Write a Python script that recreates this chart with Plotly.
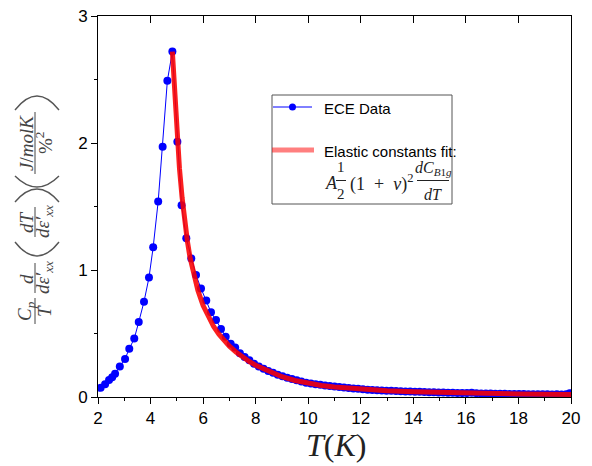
import plotly.graph_objects as go

# ---------------- data ----------------
T_rise = [2.10, 2.27, 2.42, 2.54, 2.65, 2.83, 3.03, 3.19, 3.38, 3.55, 3.75, 3.94,
          4.10, 4.29, 4.46, 4.64, 4.83]
y_rise = [0.072, 0.10, 0.134, 0.155, 0.183, 0.24, 0.30, 0.38, 0.46, 0.59, 0.75, 0.94,
          1.18, 1.54, 1.97, 2.49, 2.72]

T_fall = [5.02, 5.18, 5.36, 5.55, 5.73, 5.92, 6.12, 6.30, 6.49, 6.68, 6.86, 7.05]
y_fall = [2.01, 1.51, 1.25, 1.09, 0.96, 0.855, 0.76, 0.667, 0.606, 0.535, 0.475, 0.42]

T_tail = [7.22, 7.40, 7.58, 7.76, 7.94, 8.12, 8.30, 8.48, 8.66, 8.84, 9.02, 9.20,
          9.38, 9.56, 9.74, 9.92, 10.10, 10.28, 10.46, 10.64, 10.82, 11.00, 11.18,
          11.36, 11.54, 11.72, 11.90, 12.08, 12.26, 12.44, 12.62, 12.80, 12.98,
          13.16, 13.34, 13.52, 13.70, 13.88, 14.06, 14.24, 14.42, 14.60, 14.78,
          14.96, 15.14, 15.32, 15.50, 15.68, 15.86, 16.04, 16.22, 16.40, 16.58,
          16.76, 16.94, 17.12, 17.30, 17.48, 17.66, 17.84, 18.02, 18.20, 18.38,
          18.56, 18.74, 18.92, 19.10, 19.28, 19.46, 19.64, 19.82, 19.95]
y_tail = [0.39, 0.345, 0.315, 0.29, 0.262, 0.24, 0.222, 0.205, 0.19, 0.176, 0.163,
          0.152, 0.141, 0.132, 0.122, 0.113, 0.107, 0.101, 0.096, 0.090, 0.086,
          0.082, 0.078, 0.074, 0.071, 0.067, 0.064, 0.061, 0.058, 0.056, 0.054,
          0.052, 0.050, 0.049, 0.047, 0.046, 0.044, 0.043, 0.042, 0.041, 0.040,
          0.038, 0.037, 0.036, 0.035, 0.034, 0.033, 0.032, 0.031, 0.031, 0.033,
          0.030, 0.028, 0.027, 0.027, 0.026, 0.025, 0.025, 0.024, 0.024, 0.023,
          0.023, 0.022, 0.022, 0.021, 0.022, 0.021, 0.020, 0.021, 0.020, 0.021,
          0.030]

T_fit = [4.83, 4.9, 5.0, 5.1, 5.2, 5.3, 5.4, 5.5, 5.6, 5.7, 5.8, 6.0, 6.2, 6.4, 6.6,
         6.8, 7.0, 7.25, 7.5, 7.75, 8.0, 8.5, 9.0, 9.5, 10, 10.5, 11, 12, 13, 14,
         15, 16, 17, 18, 19, 20]
y_fit = [2.72, 2.46, 2.10, 1.80, 1.57, 1.38, 1.23, 1.10, 1.00, 0.91, 0.84, 0.72,
         0.63, 0.555, 0.495, 0.445, 0.40, 0.355, 0.315, 0.28, 0.25, 0.20, 0.16,
         0.13, 0.105, 0.09, 0.078, 0.061, 0.050, 0.042, 0.036, 0.031, 0.027, 0.024,
         0.022, 0.020]

x_ticks = [2, 4, 6, 8, 10, 12, 14, 16, 18, 20]
y_ticks = [0, 1, 2, 3]

T_data = T_rise + T_fall + T_tail
y_data = y_rise + y_fall + y_tail

# ---------------- layout helpers (screen pixel -> paper) ----------------
# page body has an 8px margin, so the figure is drawn 8px in from the corner
OFF = 8
W, H = 592 - OFF, 466 - OFF
PL, PR, PT, PB = 98, 571, 16, 397          # plot area in screen pixels
L, R, TOP, B = PL - OFF, OFF + W - PR, PT - OFF, OFF + H - PB
PW, PH = PR - PL, PB - PT


def px(x):
    return (x - PL) / PW


def py(y):
    return (PB - y) / PH


BLUE = "#0000ff"
SERIF = "Liberation Serif, DejaVu Serif, serif"
SANS = "Liberation Sans, Arial, sans-serif"

fig = go.Figure()
fig.add_trace(go.Scatter(x=T_data, y=y_data, mode="lines+markers",
                         line=dict(color=BLUE, width=1),
                         marker=dict(color=BLUE, size=8, line=dict(width=0)),
                         showlegend=False))
fig.add_trace(go.Scatter(x=T_fit, y=y_fit, mode="lines",
                         line=dict(color="rgba(250,0,0,0.88)", width=5),
                         showlegend=False))
# invisible trace for top axis
fig.add_trace(go.Scatter(x=[2, 20], y=[0, 0], xaxis="x2", mode="markers",
                         marker=dict(opacity=0), showlegend=False, hoverinfo="skip"))

fig.update_layout(
    width=W, height=H, margin=dict(l=L, r=R, t=TOP, b=B, autoexpand=False),
    paper_bgcolor="white", plot_bgcolor="white",
    showlegend=False,
    xaxis=dict(range=[2, 20], tickvals=x_ticks, ticks="outside", ticklen=6,
               tickwidth=1, tickcolor="black", showline=True, linecolor="black",
               linewidth=1, mirror=False, showgrid=False, zeroline=False,
               automargin=False, ticklabeloverflow="allow",
               tickfont=dict(family=SANS, size=17, color="black"),
               minor=dict(dtick=1, ticks="outside", ticklen=3, tickcolor="black")),
    xaxis2=dict(range=[2, 20], overlaying="x", side="top", tickvals=x_ticks,
                ticks="inside", ticklen=7, tickcolor="black", showline=True,
                linecolor="black", linewidth=1, showticklabels=False,
                showgrid=False, zeroline=False, automargin=False),
    yaxis=dict(range=[0, 3], tickvals=y_ticks, ticks="outside", ticklen=6,
               tickwidth=1, tickcolor="black", showline=True, linecolor="black",
               linewidth=1, mirror=True, showgrid=False, zeroline=False,
               automargin=False, ticklabeloverflow="allow",
               tickfont=dict(family=SANS, size=17, color="black"),
               minor=dict(dtick=0.5, ticks="outside", ticklen=3, tickcolor="black")),
)

ann = []
shapes = []


def text(x, y, s, size=16, angle=0, family=SERIF, color="#222", xa="center"):
    ann.append(dict(x=px(x), y=py(y), xref="paper", yref="paper", text=s,
                    showarrow=False, textangle=angle, xanchor=xa, yanchor="middle",
                    font=dict(family=family, size=size, color=color)))


def hline(x0, x1, y, color="#222", w=1):
    shapes.append(dict(type="line", xref="paper", yref="paper", x0=px(x0), x1=px(x1),
                       y0=py(y), y1=py(y), line=dict(color=color, width=w)))


def vline(x, y0, y1, color="#444", w=1):
    shapes.append(dict(type="line", xref="paper", yref="paper", x0=px(x), x1=px(x),
                       y0=py(y0), y1=py(y1), line=dict(color=color, width=w)))


def arc(x0, x1, yend, ymid, color="#555", w=1.4):
    # rotated parenthesis drawn as a quadratic curve (screen pixels in)
    cx = (x0 + x1) / 2
    cy = 2 * ymid - yend
    path = "M {:.5f},{:.5f} Q {:.5f},{:.5f} {:.5f},{:.5f}".format(
        px(x0), py(yend), px(cx), py(cy), px(x1), py(yend))
    shapes.append(dict(type="path", xref="paper", yref="paper", path=path,
                       line=dict(color=color, width=w)))


# x title
text(336, 445, "<i>T</i>(<i>K</i>)", size=32, color="#222")

# y label built from rotated pieces
LC = "#444"
FS = 19
text(26, 311, "<i>C<sub>p</sub></i>", size=FS, angle=-90, color=LC)
text(44, 311, "<i>T</i>", size=FS, angle=-90, color=LC)
vline(35, 298, 324, LC)
text(26, 279, "<i>d</i>", size=FS, angle=-90, color=LC)
text(44, 278, "<i>dε′<sub>xx</sub></i>", size=FS, angle=-90, color=LC)
vline(35, 263, 293, LC)
arc(15, 59, 242, 256)           # (
text(26, 222, "<i>dT</i>", size=FS, angle=-90, color=LC)
text(44, 222, "<i>dε′<sub>xx</sub></i>", size=FS, angle=-90, color=LC)
vline(35, 207, 237, LC)
arc(15, 59, 202, 189)           # )
arc(15, 59, 176, 187)           # (
text(26, 143, "<i>J</i>/<i>molK</i>", size=FS, angle=-90, color=LC)
text(44, 143, "%<sup>2</sup>", size=FS, angle=-90, color=LC)
vline(35, 112, 174, LC)
arc(15, 59, 110, 96)            # )

# legend box
shapes.append(dict(type="rect", xref="paper", yref="paper", x0=px(272), x1=px(452),
                   y0=py(204), y1=py(95), line=dict(color="#555", width=1),
                   fillcolor="white", layer="above"))
hline(273, 312, 107, color=BLUE, w=1)
shapes.append(dict(type="circle", xref="paper", yref="paper", xsizemode="pixel",
                   ysizemode="pixel", xanchor=px(292.5), yanchor=py(107),
                   x0=-3.5, x1=3.5, y0=-3.5, y1=3.5, fillcolor=BLUE,
                   line=dict(color=BLUE, width=0)))
hline(272, 314, 150, color="rgba(255,0,0,0.5)", w=5)
text(322, 108, "ECE Data", size=15, family=SANS, color="black", xa="left")
text(322, 151, "Elastic constants fit:", size=15, family=SANS, color="black", xa="left")
# formula
text(331, 183, "<i>A</i>", size=18, color="#222")
text(341, 167, "1", size=15, color="#222")
text(341, 194, "2", size=15, color="#222")
hline(336, 346, 180.5, color="#222")
text(348, 183, "(1\u2002+\u2002<i>ν</i>)<sup>2</sup>", size=18, color="#222", xa="left")
text(433, 168, "<i>dC</i><sub><i>B</i>1<i>g</i></sub>", size=16, color="#222")
text(433, 194, "<i>dT</i>", size=16, color="#222")
hline(417, 449, 180.5, color="#222")

fig.update_layout(annotations=ann, shapes=shapes)
fig.write_html("out.html")
